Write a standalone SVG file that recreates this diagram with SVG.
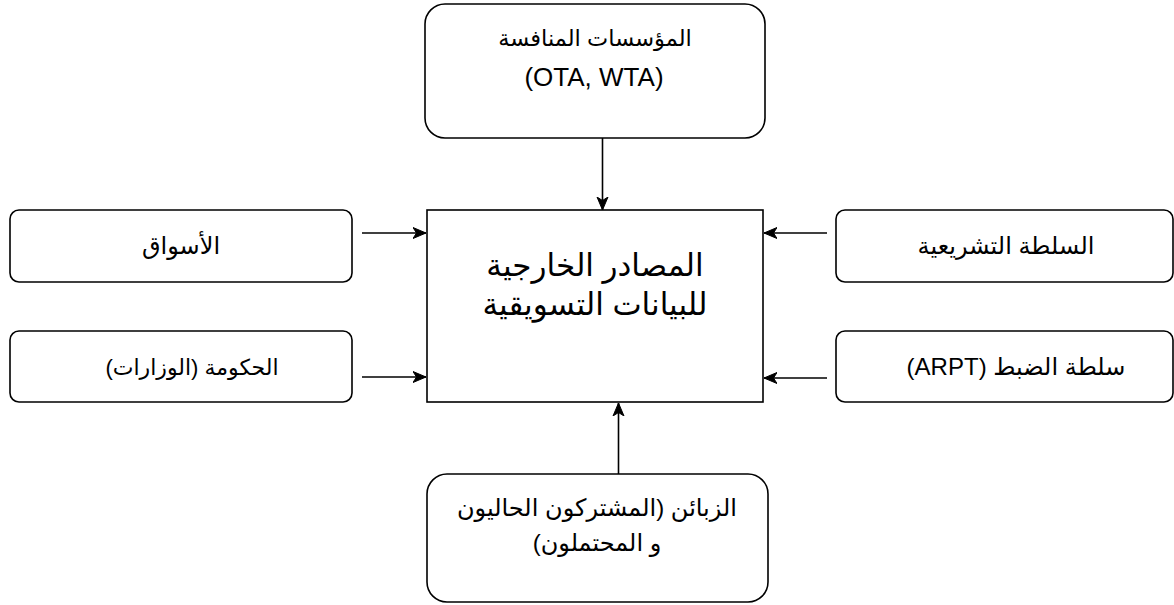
<svg xmlns="http://www.w3.org/2000/svg" width="1174" height="605" viewBox="0 0 1174 605">
  <style>
    .box { fill: #ffffff; stroke: #000000; stroke-width: 1.6; }
    .lbl { font-family: "Liberation Sans", Arial, "DejaVu Sans", sans-serif; font-size: 24px; fill: #000000; text-anchor: middle; direction: rtl; unicode-bidi: embed; }
    .latin { font-family: "Liberation Sans", Arial, sans-serif; font-size: 26px; fill: #000000; text-anchor: middle; }
    .big { font-size: 31px; }
    .edge { stroke: #000000; stroke-width: 1.6; fill: none; marker-end: url(#arrow); }
  </style>
  <defs>
    <marker id="arrow" markerUnits="userSpaceOnUse" viewBox="0 0 14 14" refX="13" refY="7" markerWidth="14" markerHeight="14" orient="auto">
      <path d="M0,1.5 L13,7 L0,12.5 L3.5,7 Z" fill="#000000" stroke="#000000" stroke-width="1"/>
    </marker>
  </defs>
  <rect width="1174" height="605" fill="#ffffff"/>

  <!-- connectors -->
  <g id="connectors">
    <line class="edge" x1="602.5" y1="138" x2="602.5" y2="210"/>
    <line class="edge" x1="362" y1="233" x2="426" y2="233"/>
    <line class="edge" x1="362" y1="377" x2="426" y2="377"/>
    <line class="edge" x1="827" y1="233" x2="764" y2="233"/>
    <line class="edge" x1="827" y1="378" x2="764" y2="378"/>
    <line class="edge" x1="618.5" y1="474" x2="618.5" y2="403"/>
  </g>

  <!-- central node -->
  <g id="center">
    <rect class="box" x="427" y="210" width="336" height="192"/>
    <text class="lbl big" x="595" y="276">المصادر الخارجية</text>
    <text class="lbl big" x="595" y="315">للبيانات التسويقية</text>
  </g>

  <g id="competitors">
    <rect class="box" x="425" y="4" width="340" height="134" rx="20" ry="20"/>
    <text class="lbl" x="595" y="46" style="font-size:22.5px">المؤسسات المنافسة</text>
    <text class="latin" x="594" y="86">(OTA, WTA)</text>
  </g>

  <g id="markets">
    <rect class="box" x="10" y="210" width="342" height="72" rx="9" ry="9"/>
    <text class="lbl" x="181" y="254">الأسواق</text>
  </g>

  <g id="government">
    <rect class="box" x="10" y="331" width="342" height="71" rx="9" ry="9"/>
    <text class="lbl" x="192" y="375" style="font-size:22px">الحكومة (الوزارات)</text>
  </g>

  <g id="legislature">
    <rect class="box" x="836" y="210" width="337" height="72" rx="9" ry="9"/>
    <text class="lbl" x="1006" y="254">السلطة التشريعية</text>
  </g>

  <g id="regulator">
    <rect class="box" x="836" y="331" width="337" height="71" rx="9" ry="9"/>
    <text class="lbl" x="1016" y="375">سلطة الضبط (ARPT)</text>
  </g>

  <g id="customers">
    <rect class="box" x="427" y="474" width="341" height="128" rx="20" ry="20"/>
    <text class="lbl" x="597" y="516">الزبائن (المشتركون الحاليون</text>
    <text class="lbl" x="597" y="551">و المحتملون)</text>
  </g>
</svg>
